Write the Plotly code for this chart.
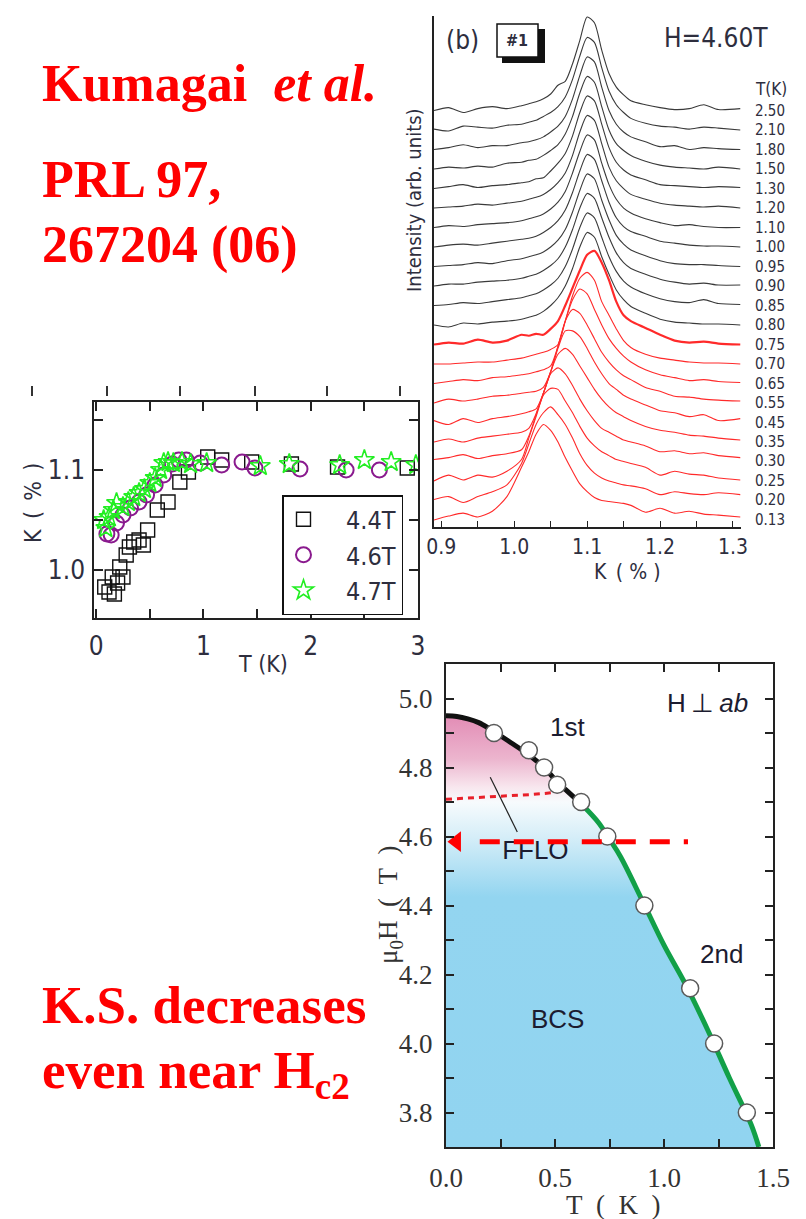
import plotly.graph_objects as go

W, H = 806, 1219

# ---------------- (b) NMR spectra: K (%) grid and intensities (units of trace spacing) ----------------
K_GRID = [0.89, 0.91, 0.93, 0.95, 0.97, 0.99, 1.01, 1.02, 1.03, 1.04, 1.05, 1.06, 1.07, 1.08,
          1.09, 1.10, 1.11, 1.12, 1.13, 1.14, 1.15, 1.16, 1.18, 1.20, 1.22, 1.24, 1.26, 1.28, 1.31]
SPEC_TEMPS = ["0.13", "0.20", "0.25", "0.30", "0.35", "0.45", "0.55", "0.65", "0.70", "0.75",
              "0.80", "0.85", "0.90", "0.95", "1.00", "1.10", "1.20", "1.30", "1.50", "1.80",
              "2.10", "2.50"]
S_013 = [0.0, 0.2, 0.35, 0.15, 0.45, 1.2, 2.7, 3.5, 4.4, 4.9, 4.6, 4.0, 3.2, 2.5, 1.85, 1.45, 1.15, 1.0, 0.95, 0.9, 0.85, 0.75, 0.4, 0.6, 0.35, 0.45, 0.3, 0.25, 0.15]
S_020 = [0.05, 0.2, -0.1, 0.2, 0.45, 0.8, 1.9, 2.9, 3.9, 4.5, 4.8, 4.4, 3.9, 3.2, 2.4, 1.8, 1.4, 1.15, 1.0, 0.9, 0.8, 0.75, 0.6, 0.3, 0.45, 0.35, 0.3, 0.4, 0.3]
S_025 = [0.0, 0.3, 0.05, 0.3, 0.2, 0.5, 1.1, 2.2, 3.3, 4.4, 4.75, 4.7, 4.1, 3.5, 2.8, 2.2, 1.8, 1.5, 1.3, 1.1, 1.0, 0.9, 0.7, 0.3, 0.5, 0.35, 0.3, 0.15, 0.05]
S_030 = [0.1, 0.2, 0.35, 0.15, 0.3, 0.4, 0.6, 1.3, 2.4, 3.5, 4.5, 4.8, 4.5, 3.9, 3.2, 2.6, 2.1, 1.7, 1.5, 1.3, 1.1, 1.0, 0.8, 0.5, 0.55, 0.4, 0.45, 0.3, 0.2]
S_035 = [0.0, 0.15, 0.0, 0.2, 0.3, 0.4, 0.5, 0.7, 1.45, 2.5, 3.6, 4.5, 4.8, 4.5, 3.9, 3.3, 2.7, 2.2, 1.8, 1.5, 1.3, 1.1, 0.8, 0.6, 0.5, 0.35, 0.3, 0.2, 0.1]
S_045 = [0.1, -0.1, 0.2, 0.0, 0.2, 0.3, 0.45, 0.55, 0.7, 1.5, 2.6, 3.8, 4.7, 4.7, 4.4, 3.8, 3.1, 2.5, 2.0, 1.7, 1.4, 1.2, 0.9, 0.6, 0.5, 0.3, 0.4, 0.1, 0.2]
S_055 = [0.0, 0.2, 0.1, 0.2, 0.35, 0.4, 0.5, 0.55, 0.6, 0.8, 1.6, 2.9, 4.2, 4.8, 4.6, 4.0, 3.3, 2.6, 2.1, 1.7, 1.4, 1.2, 0.8, 0.6, 0.35, 0.3, 0.2, 0.15, 0.1]
S_065 = [0.0, 0.1, 0.2, 0.15, 0.3, 0.35, 0.45, 0.5, 0.6, 0.7, 0.9, 1.9, 3.2, 4.3, 4.85, 4.6, 3.8, 3.0, 2.3, 1.8, 1.4, 1.1, 0.7, 0.45, 0.3, 0.15, 0.2, 0.1, 0.05]
S_070 = [0.0, 0.0, 0.05, 0.1, 0.1, 0.2, 0.3, 0.4, 0.5, 0.6, 0.75, 1.0, 2.2, 3.5, 4.4, 4.7, 4.3, 3.2, 2.5, 1.8, 1.2, 0.85, 0.5, 0.3, 0.2, 0.1, 0.05, 0.05, 0.0]
S_075 = [0.0, 0.1, 0.05, 0.25, 0.1, 0.2, 0.5, 0.45, 0.55, 0.5, 0.8, 1.2, 2.0, 2.9, 3.8, 4.6, 4.8, 4.2, 3.3, 2.2, 1.5, 1.2, 0.85, 0.5, 0.2, 0.1, 0.15, 0.05, 0.0]
S_080 = [0.0, -0.1, 0.1, 0.05, 0.15, 0.2, 0.3, 0.4, 0.5, 0.7, 1.0, 1.4, 2.0, 2.9, 4.0, 4.75, 4.5, 3.5, 2.6, 1.8, 1.3, 0.95, 0.6, 0.3, 0.15, 0.1, 0.05, 0.05, 0.0]
S_085 = [0.0, 0.05, 0.15, 0.1, 0.2, 0.3, 0.4, 0.5, 0.6, 0.8, 1.05, 1.4, 2.0, 2.9, 4.0, 4.75, 4.5, 3.5, 2.5, 1.75, 1.25, 0.95, 0.6, 0.35, 0.2, 0.15, 0.3, 0.1, 0.05]
S_090 = [0.0, 0.1, 0.1, 0.2, 0.25, 0.3, 0.4, 0.5, 0.6, 0.8, 1.05, 1.4, 2.0, 2.9, 4.0, 4.75, 4.5, 3.5, 2.5, 1.7, 1.2, 0.9, 0.6, 0.35, 0.2, 0.1, 0.15, 0.05, 0.05]
S_095 = [0.0, 0.05, 0.1, 0.2, 0.15, 0.3, 0.4, 0.5, 0.6, 0.75, 1.0, 1.35, 1.9, 2.8, 3.9, 4.75, 4.5, 3.4, 2.4, 1.6, 1.15, 0.85, 0.55, 0.3, 0.15, 0.1, 0.1, 0.05, 0.0]
S_100 = [0.0, 0.1, 0.15, 0.1, 0.2, 0.3, 0.4, 0.45, 0.55, 0.75, 1.0, 1.35, 1.9, 2.8, 3.9, 4.75, 4.5, 3.4, 2.3, 1.5, 1.05, 0.8, 0.55, 0.3, 0.2, 0.1, 0.05, 0.05, 0.0]
S_110 = [0.0, 0.1, 0.05, 0.15, 0.2, 0.25, 0.35, 0.45, 0.55, 0.7, 0.95, 1.3, 1.85, 2.8, 3.9, 4.75, 4.5, 3.3, 2.2, 1.45, 1.0, 0.75, 0.45, 0.25, 0.1, 0.15, 0.05, 0.0, 0.0]
S_120 = [0.0, 0.05, 0.1, 0.2, 0.15, 0.25, 0.35, 0.45, 0.55, 0.7, 0.95, 1.3, 1.8, 2.7, 3.9, 4.75, 4.5, 3.3, 2.1, 1.4, 1.0, 0.7, 0.45, 0.25, 0.15, 0.1, 0.05, 0.1, 0.0]
S_130 = [0.0, 0.1, 0.2, 0.05, 0.15, 0.2, 0.3, 0.35, 0.5, 0.55, 0.9, 1.3, 1.8, 2.7, 3.9, 4.75, 4.5, 3.3, 2.1, 1.35, 0.95, 0.7, 0.45, 0.2, 0.15, 0.1, 0.05, 0.1, 0.05]
S_150 = [0.0, 0.1, 0.05, 0.15, 0.1, 0.3, 0.35, 0.45, 0.5, 0.7, 0.95, 1.25, 1.8, 2.7, 3.9, 4.75, 4.45, 3.2, 2.0, 1.3, 0.95, 0.7, 0.4, 0.2, 0.1, 0.05, 0.0, 0.1, 0.0]
S_180 = [0.0, 0.1, 0.25, 0.1, 0.2, 0.2, 0.35, 0.4, 0.5, 0.65, 0.9, 1.2, 1.7, 2.6, 3.8, 4.75, 4.5, 3.2, 2.0, 1.3, 0.9, 0.65, 0.4, 0.15, 0.2, 0.0, 0.1, 0.05, 0.0]
S_210 = [0.05, -0.05, 0.2, 0.15, 0.1, 0.25, 0.3, 0.4, 0.5, 0.7, 0.9, 1.2, 1.7, 2.6, 3.8, 4.75, 4.5, 3.2, 2.0, 1.3, 0.9, 0.6, 0.35, 0.2, 0.15, 0.05, 0.15, 0.1, 0.0]
S_250 = [0.0, 0.15, -0.1, 0.1, 0.2, 0.1, 0.25, 0.35, 0.45, 0.6, 0.85, 1.3, 1.5, 2.4, 3.6, 4.8, 4.5, 3.1, 1.9, 1.2, 0.8, 0.5, 0.3, 0.15, 0.05, 0.1, 0.3, 0.05, 0.1]
SPECTRA = [S_013, S_020, S_025, S_030, S_035, S_045, S_055, S_065, S_070, S_075, S_080,
           S_085, S_090, S_095, S_100, S_110, S_120, S_130, S_150, S_180, S_210, S_250]

# ---------------- Knight shift K (%) vs T (K) ----------------
T_44 = [0.08, 0.12, 0.15, 0.17, 0.20, 0.22, 0.25, 0.28, 0.31, 0.35, 0.40, 0.44, 0.48, 0.57, 0.67,
        0.78, 0.86, 1.04, 1.17, 1.45, 1.82, 2.25, 2.90]
K_44 = [0.983, 0.978, 0.993, 0.976, 0.987, 1.003, 0.993, 1.015, 1.023, 1.028, 1.030, 1.025, 1.040,
        1.060, 1.068, 1.088, 1.098, 1.113, 1.110, 1.108, 1.106, 1.103, 1.102]
T_46 = [0.10, 0.14, 0.19, 0.25, 0.32, 0.40, 0.47, 0.55, 0.63, 0.71, 0.77, 0.84, 0.97, 1.17, 1.36,
        1.48, 1.90, 2.33, 2.64]
K_46 = [1.036, 1.035, 1.047, 1.055, 1.062, 1.068, 1.075, 1.085, 1.095, 1.106, 1.110, 1.110, 1.107,
        1.105, 1.108, 1.102, 1.101, 1.100, 1.100]
T_47 = [0.07, 0.09, 0.12, 0.16, 0.19, 0.25, 0.30, 0.35, 0.40, 0.45, 0.50, 0.55, 0.60, 0.63, 0.67,
        0.72, 0.80, 0.88, 1.03, 1.53, 1.80, 2.27, 2.50, 2.75, 2.98]
K_47 = [1.050, 1.042, 1.053, 1.060, 1.067, 1.063, 1.068, 1.073, 1.077, 1.081, 1.087, 1.092, 1.100,
        1.107, 1.108, 1.107, 1.108, 1.106, 1.107, 1.104, 1.106, 1.105, 1.110, 1.108, 1.105]
FIELD_NAMES = ["4.4T", "4.6T", "4.7T"]

# ---------------- H-T phase diagram ----------------
HC2_T = [0.00, 0.05, 0.10, 0.15, 0.20, 0.25, 0.30, 0.35, 0.40, 0.45, 0.50, 0.55, 0.62, 0.70, 0.75,
         0.80, 0.90, 1.00, 1.10, 1.20, 1.30, 1.40, 1.435]
HC2_H = [4.950, 4.948, 4.941, 4.930, 4.912, 4.892, 4.871, 4.850, 4.827, 4.800, 4.765, 4.735, 4.695,
         4.640, 4.592, 4.542, 4.415, 4.285, 4.170, 4.040, 3.900, 3.765, 3.700]
FIRST_ORDER_END_T = 0.62
PTS_T = [0.22, 0.38, 0.45, 0.51, 0.62, 0.74, 0.91, 1.12, 1.23, 1.38]
PTS_H = [4.90, 4.85, 4.80, 4.75, 4.70, 4.60, 4.40, 4.16, 4.00, 3.80]
FFLO_T = [0.00, 0.10, 0.20, 0.30, 0.40, 0.49]
FFLO_H = [4.708, 4.711, 4.714, 4.718, 4.722, 4.727]
ARROW_H = 4.585
ARROW_T = [0.155, 1.11]

# ---------------- fonts / colors ----------------
SERIF = "Liberation Serif, Times New Roman, serif"
NARROW = "Liberation Sans Narrow, DejaVu Sans Condensed, Arial Narrow, Liberation Sans, sans-serif"
SANS = "Liberation Sans, Arial, sans-serif"
TXT = "#2e2e3e"
RED = "#ff0000"


def px(x):
    return x / W


def py(y):
    return 1 - y / H


fig = go.Figure()

# ---- (b) spectra
for i, (t, s) in enumerate(zip(SPEC_TEMPS, SPECTRA)):
    is_red = float(t) <= 0.75
    fig.add_trace(go.Scatter(
        x=K_GRID, y=[v + i for v in s], mode="lines", xaxis="x", yaxis="y",
        line=dict(color="#ff2a2a" if is_red else "#3a3a3a",
                  width=2.2 if t == "0.75" else 1.1, shape="spline", smoothing=0.7),
        showlegend=False, hoverinfo="skip"))

# ---- K vs T
fig.add_trace(go.Scatter(x=T_44, y=K_44, mode="markers", xaxis="x2", yaxis="y2",
                         name="\u2003" + FIELD_NAMES[0],
                         marker=dict(symbol="square-open", size=14, color="#111111",
                                     line=dict(width=1.4))))
fig.add_trace(go.Scatter(x=T_46, y=K_46, mode="markers", xaxis="x2", yaxis="y2",
                         name="\u2003" + FIELD_NAMES[1],
                         marker=dict(symbol="circle-open", size=15, color="#8a1a8e",
                                     line=dict(width=2))))
fig.add_trace(go.Scatter(x=T_47, y=K_47, mode="markers", xaxis="x2", yaxis="y2",
                         name="\u2003" + FIELD_NAMES[2],
                         marker=dict(symbol="star-open", size=15, color="#22ee22",
                                     line=dict(width=1.6))))

# ---- phase diagram
fig.add_trace(go.Scatter(
    x=HC2_T, y=HC2_H, mode="lines", xaxis="x3", yaxis="y3", line=dict(width=0),
    fill="tozeroy",
    fillgradient=dict(type="vertical", start=3.7, stop=4.95,
                      colorscale=[[0.0, "#91d4f0"], [0.58, "#93d5f0"], [0.72, "#d6eef8"],
                                  [0.80, "#f7fbfd"], [0.835, "#f8e6ee"], [0.90, "#ecb5ce"],
                                  [1.0, "#e28cb5"]]),
    showlegend=False, hoverinfo="skip"))
bt = [t for t in HC2_T if t <= FIRST_ORDER_END_T]
bh = [h for t, h in zip(HC2_T, HC2_H) if t <= FIRST_ORDER_END_T]
gt = [t for t in HC2_T if t >= FIRST_ORDER_END_T]
gh = [h for t, h in zip(HC2_T, HC2_H) if t >= FIRST_ORDER_END_T]
fig.add_trace(go.Scatter(x=gt, y=gh, mode="lines", xaxis="x3", yaxis="y3",
                         line=dict(color="#12a048", width=5, shape="spline"),
                         showlegend=False, hoverinfo="skip"))
fig.add_trace(go.Scatter(x=bt, y=bh, mode="lines", xaxis="x3", yaxis="y3",
                         line=dict(color="#111111", width=5, shape="spline"),
                         showlegend=False, hoverinfo="skip"))
fig.add_trace(go.Scatter(x=FFLO_T, y=FFLO_H, mode="lines", xaxis="x3", yaxis="y3",
                         line=dict(color="#e8202a", width=3, dash="6px,5px"),
                         showlegend=False, hoverinfo="skip"))
fig.add_trace(go.Scatter(x=PTS_T, y=PTS_H, mode="markers", xaxis="x3", yaxis="y3",
                         marker=dict(symbol="circle", size=17, color="white",
                                     line=dict(color="#5a5a5a", width=1.5)),
                         showlegend=False, hoverinfo="skip"))
# pointer line from FFLO label
fig.add_trace(go.Scatter(x=[0.203, 0.327], y=[4.772, 4.613], mode="lines", xaxis="x3", yaxis="y3",
                         line=dict(color="#222222", width=1.2), showlegend=False, hoverinfo="skip"))
# region label drawn as a text trace (so the red arrow passes over it)
fig.add_trace(go.Scatter(x=[0.41], y=[4.555], mode="text", text=["FFLO"], xaxis="x3", yaxis="y3",
                         textfont=dict(family=SANS, size=26, color="#1c1c30"),
                         showlegend=False, hoverinfo="skip"))
fig.add_trace(go.Scatter(x=ARROW_T, y=[ARROW_H, ARROW_H], mode="lines", xaxis="x3", yaxis="y3",
                         line=dict(color=RED, width=5, dash="20px,14px"),
                         showlegend=False, hoverinfo="skip"))
fig.add_trace(go.Scatter(x=[0.048], y=[ARROW_H], mode="markers", xaxis="x3", yaxis="y3",
                         marker=dict(symbol="triangle-left", size=18, color=RED,
                                     line=dict(width=0)),
                         showlegend=False, hoverinfo="skip"))

# ---------------- axes ----------------
axis_common = dict(showgrid=False, zeroline=False, showline=True, linecolor="#222222",
                   automargin=False)

k_ticks = [0.90, 0.95, 1.00, 1.05, 1.10, 1.15, 1.20, 1.25, 1.30]
k_text = ["0.9", "", "1.0", "", "1.1", "", "1.2", "", "1.3"]
t2_ticks = [0, 0.5, 1, 1.5, 2, 2.5, 3]
t2_text = ["0", "", "1", "", "2", "", "3"]
k2_ticks = [1.0, 1.05, 1.1, 1.15]
k2_text = ["1.0", "", "1.1", ""]
t3_ticks = [0, 0.25, 0.5, 0.75, 1.0, 1.25, 1.5]
t3_text = ["0.0", "", "0.5", "", "1.0", "", "1.5"]
h3_ticks = [3.8, 3.9, 4.0, 4.1, 4.2, 4.3, 4.4, 4.5, 4.6, 4.7, 4.8, 4.9, 5.0]
h3_text = ["3.8", "", "4.0", "", "4.2", "", "4.4", "", "4.6", "", "4.8", "", "5.0"]

fig.update_layout(
    width=W, height=H, margin=dict(l=0, r=0, t=0, b=0, pad=0, autoexpand=False),
    paper_bgcolor="white", plot_bgcolor="rgba(0,0,0,0)",
    xaxis=dict(axis_common, domain=[px(434), px(741)], range=[0.89, 1.311], linewidth=1.5,
               ticks="inside", ticklen=6, tickwidth=1.3, tickcolor="#222",
               tickvals=k_ticks, ticktext=k_text, ticklabelstandoff=0,
               tickfont=dict(family=NARROW, size=21, color=TXT), anchor="y"),
    yaxis=dict(axis_common, domain=[py(527), py(16)], range=[-0.36, 25.85], linewidth=1.5,
               ticks="", showticklabels=False, anchor="x"),
    xaxis2=dict(axis_common, domain=[px(94), px(418)], range=[-0.02, 3.0], linewidth=1.5,
                mirror="allticks", ticks="inside", ticklen=9, tickwidth=1.5, tickcolor="#222",
                tickvals=t2_ticks, ticktext=t2_text, ticklabelstandoff=4,
                tickfont=dict(family=NARROW, size=26, color=TXT), anchor="y2"),
    yaxis2=dict(axis_common, domain=[py(618), py(402)], range=[0.952, 1.168], linewidth=1.5,
                mirror="allticks", ticks="inside", ticklen=9, tickwidth=1.5, tickcolor="#222",
                tickvals=k2_ticks, ticktext=k2_text, ticklabelstandoff=2,
                tickfont=dict(family=NARROW, size=26, color=TXT), anchor="x2"),
    xaxis3=dict(axis_common, domain=[px(446), px(773)], range=[0, 1.5], linewidth=2,
                mirror="allticks", ticks="inside", ticklen=8, tickwidth=1.5, tickcolor="#222",
                tickvals=t3_ticks, ticktext=t3_text, ticklabelstandoff=6,
                tickfont=dict(family=SERIF, size=27, color="#333"), anchor="y3"),
    yaxis3=dict(axis_common, domain=[py(1147), py(664)], range=[3.7, 5.1], linewidth=2,
                mirror="allticks", ticks="inside", ticklen=8, tickwidth=1.5, tickcolor="#222",
                tickvals=h3_ticks, ticktext=h3_text, ticklabelstandoff=6,
                tickfont=dict(family=SERIF, size=27, color="#333"), anchor="x3"),
    legend=dict(x=px(282), y=py(495), xanchor="left", yanchor="top",
                bordercolor="#111111", borderwidth=1.5, bgcolor="white",
                font=dict(family=NARROW, size=25, color=TXT), tracegroupgap=0),
    showlegend=True,
)

# ---------------- annotations ----------------
anns = []


def ann(text, x, y, size, family, color, xanchor="center", yanchor="middle", angle=0):
    anns.append(dict(text=text, x=px(x), y=py(y), xref="paper", yref="paper", showarrow=False,
                     font=dict(family=family, size=size, color=color),
                     xanchor=xanchor, yanchor=yanchor, textangle=angle))


# big red texts
ann("<b>Kumagai</b>\u00a0\u00a0<b><i>et al.</i></b>", 40, 84, 52, SERIF, RED, xanchor="left")
ann("<b>PRL 97,</b>", 40, 180, 52, SERIF, RED, xanchor="left")
ann("<b>267204 (06)</b>", 40, 245, 52, SERIF, RED, xanchor="left")
ann("<b>K.S. decreases</b>", 40, 1005, 53, SERIF, RED, xanchor="left")
ann("<b>even near H<sub>c2</sub></b>", 40, 1074, 53, SERIF, RED, xanchor="left")

# panel (b)
ann("(b)", 462, 40, 26, NARROW, TXT)
ann("<b>#1</b>", 517, 41, 16, NARROW, TXT)
ann("H=4.60T", 716, 38, 26, NARROW, TXT)
ann("T(K)", 771, 89, 17, NARROW, TXT)
ann("Intensity (arb. units)", 414, 200, 20, NARROW, TXT, angle=-90)
ann("K\u2002( % )", 627, 572, 21, NARROW, TXT)
for i, t in enumerate(SPEC_TEMPS):
    anns.append(dict(text=t, x=px(753), y=i, xref="paper", yref="y", showarrow=False,
                     font=dict(family=NARROW, size=15, color=TXT), xanchor="left",
                     yanchor="middle"))

# K vs T
ann("K\u2002(\u2002%\u2002)", 33, 503, 23, NARROW, TXT, angle=-90)
ann("T (K)", 263, 664, 23, NARROW, TXT)

# phase diagram
ann("H\u2009\u22a5\u2009<i>ab</i>", 707, 703, 26, SANS, "#1c1c30")
ann("1st", 567, 727, 26, SANS, "#1c1c30")
ann("2nd", 721, 954, 26, SANS, "#1c1c30")
ann("BCS", 557, 1019, 26, SANS, "#1c1c30")
ann("T\u2002(\u2002K\u2002)", 613, 1205, 27, SERIF, "#333")
ann("\u03bc<sub>0</sub>H\u2002(\u2002T\u2002)", 390, 905, 27, SERIF, "#333", angle=-90)

fig.update_layout(annotations=anns)

# ---------------- decorative shapes ----------------
shapes = [
    # "#1" box with drop shadow
    dict(type="rect", xref="paper", yref="paper", x0=px(502), x1=px(545), y0=py(63), y1=py(29),
         fillcolor="#111111", line=dict(width=0)),
    dict(type="rect", xref="paper", yref="paper", x0=px(497), x1=px(538), y0=py(57), y1=py(24),
         fillcolor="white", line=dict(color="#111111", width=1.5)),
]
for sx in [32, 107, 180, 255, 327, 400]:
    shapes.append(dict(type="line", xref="paper", yref="paper", x0=px(sx), x1=px(sx),
                       y0=py(396), y1=py(386), line=dict(color="#333333", width=2)))
fig.update_layout(shapes=shapes)

fig.write_html("out.html")
